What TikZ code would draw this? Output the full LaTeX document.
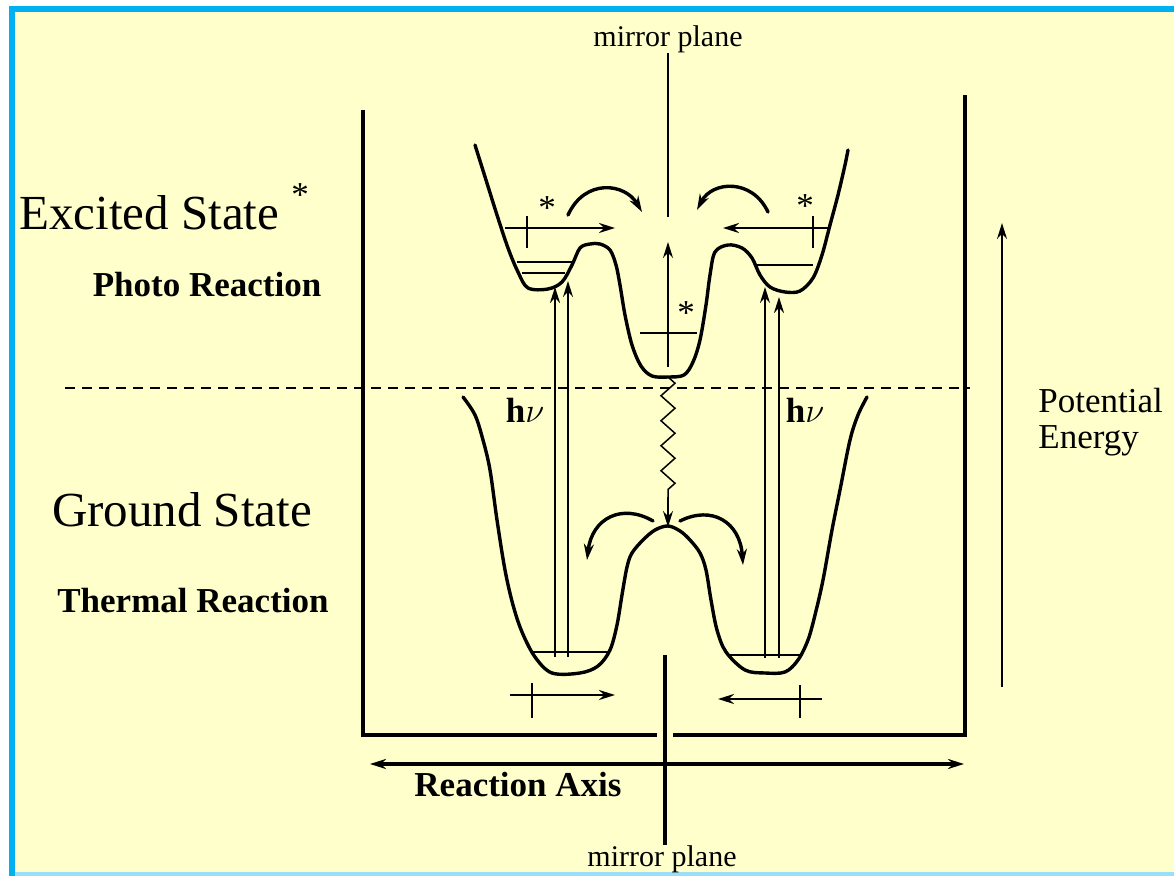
\documentclass[tikz,border=0pt]{standalone}
\usepackage{fontspec}
\setmainfont{Liberation Serif}
\usetikzlibrary{arrows.meta,decorations.pathmorphing}
\definecolor{paper}{RGB}{255,255,204}
\definecolor{frameblue}{RGB}{0,176,240}
\newcommand{\bigtext}{\fontsize{24.5}{28}\selectfont}
\newcommand{\midtext}{\fontsize{17.5}{21}\selectfont}
\newcommand{\smalltext}{\fontsize{15}{18}\selectfont}
\begin{document}
\begin{tikzpicture}[x=0.5pt,y=-0.5pt,
  curve/.style={line width=1.7pt, line join=round, line cap=round},
  thin/.style={line width=0.75pt},
  frame/.style={line width=1.6pt},
  tip/.style={-{Stealth[length=8pt,width=5pt]}},
  lbl/.style={inner sep=0pt}]
\useasboundingbox (0,0) rectangle (1174,876);
\fill[white] (0,0) rectangle (1174,876);
\fill[frameblue] (9,6) rectangle (1174,876);
\fill[paper] (15,12) rectangle (1174,872);
\fill[frameblue!40] (15,872) rectangle (1174,876);

% box and axes
\draw[frame] (363,110) -- (363,735) -- (657,735);
\draw[frame] (673,735) -- (965,735) -- (965,95);
\draw[frame, {Stealth[length=8pt,width=5pt]}-{Stealth[length=8pt,width=5pt]}] (370,764) -- (964,764);
\draw[thin, tip] (1002,687) -- (1002,223);
\draw[thin, dashed, dash pattern=on 5pt off 3.5pt] (65,388) -- (970,388);

% mirror plane
\node[lbl, anchor=south] (mirtop) at (668,53) {\smalltext mirror plane};
\node[lbl, anchor=north] (mirbot) at (662,845) {\smalltext mirror plane};
\draw[thin] (mirtop.south -| 668,0) -- (668,217);
\draw[frame] (665,655) -- (mirbot.north -| 665,0);

% excited state surface
\draw[curve] plot[smooth, tension=0.55] coordinates {
  (475,145) (486,180) (497,215) (508,248) (518,272) (528,288) (548,289)
  (562,282) (572,265) (580,248) (590,244) (600,244) (610,250) (616,265)
  (620,285) (625,315) (632,345) (641,366) (652,376) (668,377) (684,375)
  (693,362) (700,340) (706,305) (710,275) (715,252) (728,245) (742,248)
  (752,258) (760,275) (770,287) (785,292) (800,291) (813,278) (822,255)
  (830,225) (838,195) (845,165) (848,150)};
\draw[thin] (517,262) -- (572,262);
\draw[thin] (522,273) -- (565,273);
\draw[thin] (757,265) -- (813,265);

% ground state surface
\draw[curve] plot[smooth, tension=0.55] coordinates {
  (463,397) (475,415) (483,440) (490,470) (497,520) (505,570) (513,605)
  (522,632) (535,657) (552,673) (580,673) (598,666) (610,650) (617,625)
  (622,595) (627,567) (632,553) (643,540) (655,530) (668,526) (680,531)
  (690,540) (700,553) (706,570) (711,600) (717,630) (726,652) (745,670)
  (765,673) (785,672) (798,660) (808,640) (815,615) (823,580) (832,530)
  (840,490) (850,440) (858,415) (867,397)};
\draw[thin] (532,652) -- (610,652);
\draw[thin] (727,655) -- (802,655);

% h nu excitations
\draw[line width=1.2pt, tip] (555,657) -- (555,287);
\draw[thin, tip] (568,657) -- (568,281);
\draw[thin, tip] (765,658) -- (765,287);
\draw[line width=1.2pt, tip] (779,658) -- (779,297);
\node[lbl] (hnul) at (525,410) {\midtext\textbf{h}$\nu$};
\node[lbl] (hnur) at (805,410) {\midtext\textbf{h}$\nu$};

% excited state motions
\draw[line width=1.2pt, tip] (505,228) -- (615,228);
\draw[line width=1.2pt] (527,216) -- (527,248);
\draw[line width=1.2pt, tip] (828,228) -- (723,228);
\draw[line width=1.2pt] (813,216) -- (813,248);
\node[lbl] (starl) at (547,208) {\midtext *};
\node[lbl] (starr) at (805,206) {\midtext *};
\draw[curve, tip] (568,215) .. controls (585,178) and (625,183) .. (642,212);
\draw[curve, tip] (768,212) .. controls (752,178) and (712,181) .. (697,210);
\draw[thin, tip] (668,367) -- (668,242);
\draw[line width=1.2pt] (640,333) -- (697,333);
\node[lbl] (starc) at (686,313) {\midtext *};

% radiationless decay
\draw[thin, decorate, decoration={zigzag, segment length=12.5pt, amplitude=3.5pt}] (668,377) -- (668,497);
\draw[thin, tip] (668,497) -- (668,527);

% ground state motions
\draw[curve, tip] (653,521) .. controls (622,503) and (592,518) .. (587,560);
\draw[curve, tip] (680,521) .. controls (712,505) and (740,522) .. (743,565);
\draw[line width=1.2pt, tip] (510,695) -- (615,695);
\draw[line width=1.2pt] (532,683) -- (532,718);
\draw[line width=1.2pt, tip] (822,699) -- (718,699);
\draw[line width=1.2pt] (800,685) -- (800,718);

% labels
\node[lbl, anchor=west] (exc) at (19,213) {\bigtext Excited State};
\node[lbl] (excstar) at (300,195) {\midtext *};
\node[lbl] (photo) at (207,285) {\midtext\bfseries Photo Reaction};
\node[lbl] (ground) at (182,510) {\bigtext Ground State};
\node[lbl] (thermal) at (193,601) {\midtext\bfseries Thermal Reaction};
\node[lbl, anchor=west, align=left, font=\midtext] (pot) at (1038,422) {Potential\\[-3pt]Energy};
\node[lbl] (axis) at (518,785) {\midtext\bfseries Reaction Axis};
\end{tikzpicture}
\end{document}
